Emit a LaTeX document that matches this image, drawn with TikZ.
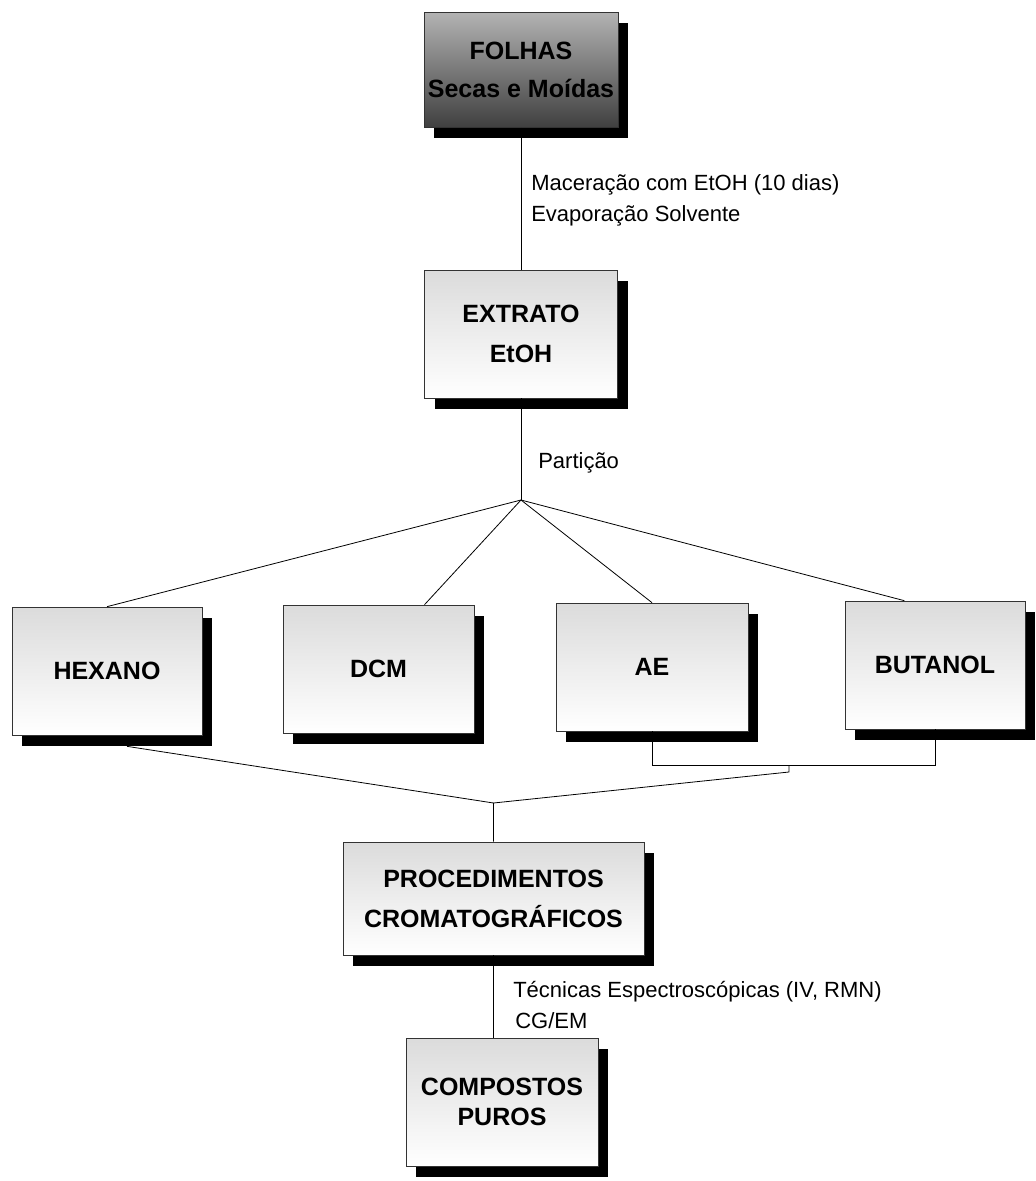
\documentclass[tikz,border=0pt]{standalone}
\usepackage{fontspec}
\setmainfont{Liberation Sans}
\usetikzlibrary{shadows}
\usetikzlibrary{calc}

\begin{document}
\begin{tikzpicture}[x=0.75pt,y=-0.75pt,
  box/.style={draw=black!80,line width=0.5pt,top color=gray!28,bottom color=white,
    drop shadow={shadow xshift=7.5pt,shadow yshift=-8pt,opacity=1,fill=black},
    font=\fontsize{18.75}{23}\selectfont\bfseries,inner sep=0pt},
  tall/.style={box,align=center,minimum width=144pt,minimum height=96pt},
  low/.style={box,minimum height=96pt},
  note/.style={anchor=base west,inner sep=0pt,font=\fontsize{16.5}{20}\selectfont},
  line/.style={line width=0.6pt}]
\useasboundingbox (0,0) rectangle (1035,1181);

% boxes
\node[box,align=center,minimum width=145.5pt,minimum height=86.25pt,
  top color=gray!60,middle color=gray!30,bottom color=black!75] (folhas) at (521,70)
  {FOLHAS\\[5.5pt]Secas e Moídas};
\node[tall,minimum width=144.75pt] (extrato) at (521,334) {EXTRATO\\[7pt]EtOH};
\node[low,minimum width=142.5pt] (hexano) at (107,671) {HEXANO};
\node[low,minimum width=143.25pt] (dcm) at (378.5,669) {DCM};
\node[low,minimum width=144pt] (ae) at (652,667) {AE};
\node[low,minimum width=135pt] (butanol) at (935,665) {BUTANOL};
\node[box,align=center,minimum width=225.75pt,minimum height=84.75pt] (proc) at (493.5,898.5)
  {PROCEDIMENTOS\\[7pt]CROMATOGRÁFICOS};
\node[tall] (comp) at (502,1102) {COMPOSTOS\\PUROS};

\coordinate (split) at (521,500);
\coordinate (merge) at (493.5,803);
\coordinate (join) at (789,765);

% connectors
\draw[line] (folhas) -- (extrato) -- (split);
\draw[line] (split) -- (hexano.north);
\draw[line] (split) -- ($(dcm.north west)!0.74!(dcm.north east)$);
\draw[line] (split) -- (ae.north);
\draw[line] (split) -- ($(butanol.north west)!0.33!(butanol.north east)$);
\draw[line] ($(hexano.south)+(20,11)$) -- (merge) -- (proc.north);
\draw[line] (ae.south) -- ++(0,34) -| (butanol.south);
\draw[line] (join) -- ++(0,7) -- (merge);
\draw[line] (proc.south) -- (proc.south |- comp.north);

% labels
\node[note] (mac) at (531,190) {Maceração com EtOH (10 dias)};
\node[note] (evap) at (531,221) {Evaporação Solvente};
\node[note] (part) at (538,468) {Partição};
\node[note] (tec) at (513,997) {Técnicas Espectroscópicas (IV, RMN)};
\node[note] (cgem) at (515,1028) {CG/EM};
\end{tikzpicture}
\end{document}
